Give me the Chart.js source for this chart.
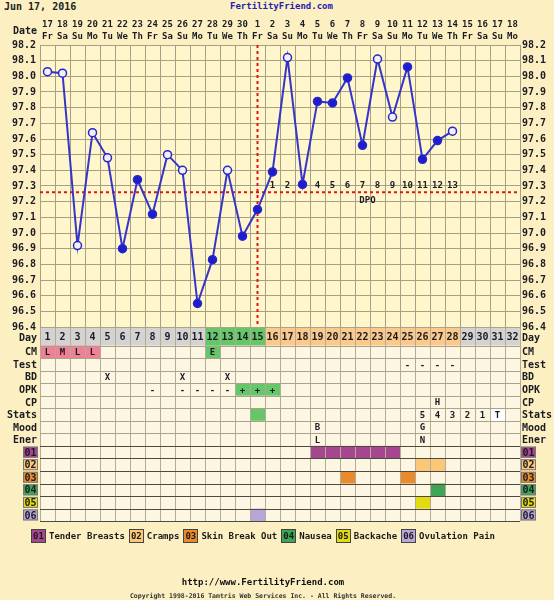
<!DOCTYPE html>
<html>
<head>
<meta charset="utf-8">
<script src="https://cdn.jsdelivr.net/npm/chart.js@4.4.1/dist/chart.umd.min.js"></script>
<style>
  html, body { margin: 0; padding: 0; background: #fcf0c2; }
  body { width: 554px; height: 600px; position: relative; overflow: hidden;
         font-family: "DejaVu Sans Mono", monospace; font-weight: bold; }
  #chart { position: absolute; left: 0; top: 0; }
  .title { position: absolute; top: 1px; left: 4px; font-size: 10px; color: #222; }
  .site { position: absolute; top: 1px; left: 230px; font-size: 9px; color: #1e22b0; }
  #legend { position: absolute; top: 529px; left: 31px; display: flex; align-items: center;
            font-size: 9px; color: #1a1a1a; white-space: nowrap; }
  #legend .item { display: flex; align-items: center; margin-right: 4px; }
  #legend .box { width: 13px; height: 12px; border: 1px solid #444; display: inline-flex;
                 align-items: center; justify-content: center; margin-right: 3px; font-size: 9px; }
  .url { position: absolute; top: 577px; left: 0; width: 526px; text-align: center; font-size: 9px; color: #111; }
  .copy { position: absolute; top: 592px; left: 0; width: 526px; text-align: center; font-size: 6.5px; color: #333; }
</style>
</head>
<body>
<div class="title">Jun 17, 2016</div>
<div class="site">FertilityFriend.com</div>
<canvas id="chart" width="554" height="600"></canvas>
<div id="legend"></div>
<div class="url">http://www.FertilityFriend.com</div>
<div class="copy">Copyright 1998-2016 Tamtris Web Services Inc. - All Rights Reserved.</div>
<script>
// --- chart data ---
const cycleDays = ['1','2','3','4','5','6','7','8','9','10','11','12','13','14','15','16',
                   '17','18','19','20','21','22','23','24','25','26','27','28','29','30','31','32'];
const dates = ['17','18','19','20','21','22','23','24','25','26','27','28','29','30','1','2',
               '3','4','5','6','7','8','9','10','11','12','13','14','15','16','17','18'];
const weekdays = ['Fr','Sa','Su','Mo','Tu','We','Th','Fr','Sa','Su','Mo','Tu','We','Th','Fr','Sa',
                  'Su','Mo','Tu','We','Th','Fr','Sa','Su','Mo','Tu','We','Th','Fr','Sa','Su','Mo'];
const temps = [98.03, 98.02, 96.92, 97.64, 97.48, 96.90, 97.34, 97.12, 97.50, 97.40, 96.55, 96.83,
               97.40, 96.98, 97.15, 97.39, 98.12, 97.31, 97.84, 97.83, 97.99, 97.56, 98.11, 97.74,
               98.06, 97.47, 97.59, 97.65, null, null, null, null];
const openCircleDays = [1, 2, 3, 4, 5, 9, 10, 13, 17, 23, 24, 28];
const coverline = 97.26;
const ovulationDay = 15;
const fertileDays = [12, 13, 14, 15];
const lutealDays = [16, 17, 18, 19, 20, 21, 22, 23, 24, 25, 26, 27, 28];

// observation rows (day: mark)
const cmMarks = {1: 'L', 2: 'M', 3: 'L', 4: 'L', 12: 'E'};
const testMarks = {25: '-', 26: '-', 27: '-', 28: '-'};
const bdMarks = {5: 'X', 10: 'X', 13: 'X'};
const opkMarks = {8: '-', 10: '-', 11: '-', 12: '-', 13: '-', 14: '+', 15: '+', 16: '+'};
const cpMarks = {27: 'H'};
const statsMarks = {26: '5', 27: '4', 28: '3', 29: '2', 30: '1', 31: 'T'};
const moodMarks = {19: 'B', 26: 'G'};
const energyMarks = {19: 'L', 26: 'N'};

const symptomNames = ['Tender Breasts', 'Cramps', 'Skin Break Out', 'Nausea', 'Backache', 'Ovulation Pain'];
const symptomDays = [
  [19, 20, 21, 22, 23, 24],
  [26, 27],
  [21, 25],
  [27],
  [26],
  [15]
];
const symptomColors = ['#a5468e', '#fbc878', '#e98b2c', '#3ea456', '#e3da12', '#b9a6d9'];

// --- styles ---
const font = '"DejaVu Sans Mono", monospace';
const gridColor = '#a69f86';
const plotBg = '#fff6cc';
const cellBg = '#fdf6e3';
const green = '#66c76a';
const pink = '#ef8098';
const textColor = '#1b1b24';

const legendEl = document.getElementById('legend');
symptomNames.forEach((name, i) => {
  const item = document.createElement('span');
  item.className = 'item';
  item.innerHTML = '<span class="box" style="background:' + symptomColors[i] + '">0' + (i + 1) +
                   '</span>' + name;
  legendEl.appendChild(item);
});

const tableRows = [
  {label: 'CM', marks: cmMarks, fill: (v) => v === 'E' ? green : (v ? pink : null)},
  {label: 'Test', marks: testMarks},
  {label: 'BD', marks: bdMarks},
  {label: 'OPK', marks: opkMarks, fill: (v) => v === '+' ? green : null},
  {label: 'CP', marks: cpMarks},
  {label: 'Stats', marks: statsMarks, fill: (v, d) => d === ovulationDay ? green : (v === 'T' ? '#ffffff' : null)},
  {label: 'Mood', marks: moodMarks},
  {label: 'Ener', marks: energyMarks}
];
symptomDays.forEach((days, i) => {
  tableRows.push({label: '0' + (i + 1), symptom: i, marks: {}, fill: (v, d) => days.includes(d) ? symptomColors[i] : null});
});

const backgroundPlugin = {
  id: 'plotBackground',
  beforeDraw(chart) {
    const {ctx, chartArea: a} = chart;
    ctx.save();
    ctx.fillStyle = plotBg;
    ctx.fillRect(a.left, a.top, a.right - a.left, a.bottom - a.top);
    ctx.restore();
  },
  beforeDatasetsDraw(chart) {
    const {ctx, chartArea: a} = chart;
    const x = chart.scales.x, y = chart.scales.y;
    const yc = y.getPixelForValue(coverline);
    const xo = x.getPixelForValue(ovulationDay - 1);
    ctx.save();
    ctx.strokeStyle = '#e01414';
    ctx.lineWidth = 2;
    ctx.setLineDash([3, 3]);
    ctx.beginPath();
    ctx.moveTo(a.left, yc);
    ctx.lineTo(a.right, yc);
    ctx.moveTo(xo, a.top);
    ctx.lineTo(xo, a.bottom);
    ctx.stroke();
    ctx.setLineDash([]);
    // DPO numbers
    ctx.fillStyle = textColor;
    ctx.font = 'bold 9px ' + font;
    ctx.textAlign = 'center';
    ctx.textBaseline = 'middle';
    temps.forEach((t, i) => {
      const d = i + 1;
      if (t !== null && d > ovulationDay) {
        ctx.fillText(String(d - ovulationDay), x.getPixelForValue(i), yc - 7);
      }
    });
    ctx.fillText('DPO', x.getPixelForValue(21) + 5, yc + 8);
    ctx.restore();
  }
};

const tablePlugin = {
  id: 'chartTable',
  afterDraw(chart) {
    const {ctx, chartArea: a} = chart;
    const x = chart.scales.x;
    const n = cycleDays.length;
    const colW = (x.right - x.left) / n;
    const dayTop = a.bottom, dayH = 18.5, rowH = 12.55;
    const rowsTop = dayTop + dayH;
    const tableBottom = rowsTop + tableRows.length * rowH;
    const px = (v) => Math.round(v) + 0.5;
    ctx.save();

    // header: dates and weekdays
    ctx.fillStyle = textColor;
    ctx.textAlign = 'center';
    ctx.textBaseline = 'middle';
    ctx.font = 'bold 9px ' + font;
    dates.forEach((d, i) => {
      const cx = x.getPixelForValue(i);
      ctx.fillText(d, cx, 25);
      ctx.fillText(weekdays[i], cx, 37);
    });
    ctx.textAlign = 'right';
    ctx.font = 'bold 10px ' + font;
    ctx.fillText('Date', a.left - 3, 31);

    // cell backgrounds
    ctx.fillStyle = cellBg;
    ctx.fillRect(a.left, rowsTop, a.right - a.left, tableBottom - rowsTop);
    cycleDays.forEach((d, i) => {
      const day = i + 1;
      const left = x.getPixelForValue(i) - colW / 2;
      ctx.fillStyle = fertileDays.includes(day) ? green : (lutealDays.includes(day) ? '#fbc98b' : '#d3d3d3');
      ctx.fillRect(left, dayTop, colW, dayH);
      tableRows.forEach((row, r) => {
        const v = row.marks[day] || '';
        const c = row.fill ? row.fill(v, day) : null;
        if (c) {
          ctx.fillStyle = c;
          ctx.fillRect(left, rowsTop + r * rowH, colW, rowH);
        }
      });
    });

    // grid lines
    ctx.lineWidth = 1;
    ctx.strokeStyle = '#b3ab94';
    for (let i = 0; i <= n; i++) {
      const lx = px(a.left + i * colW);
      ctx.beginPath();
      ctx.moveTo(lx, dayTop);
      ctx.lineTo(lx, tableBottom);
      ctx.stroke();
    }
    for (let r = 0; r <= tableRows.length; r++) {
      const ly = px(rowsTop + r * rowH);
      ctx.strokeStyle = r >= 8 ? '#4e4a40' : '#aaa38c';
      ctx.beginPath();
      ctx.moveTo(a.left, ly);
      ctx.lineTo(a.right, ly);
      ctx.stroke();
    }
    ctx.strokeStyle = '#aaa38c';
    ctx.beginPath();
    ctx.moveTo(a.left, px(dayTop));
    ctx.lineTo(a.right, px(dayTop));
    ctx.stroke();

    // day numbers and marks
    ctx.fillStyle = textColor;
    ctx.textAlign = 'center';
    cycleDays.forEach((d, i) => {
      const cx = x.getPixelForValue(i);
      ctx.font = 'bold 10px ' + font;
      ctx.fillText(d, cx, dayTop + dayH / 2 + 1);
      ctx.font = 'bold 9px ' + font;
      tableRows.forEach((row, r) => {
        const v = row.marks[i + 1];
        if (v) ctx.fillText(v, cx, rowsTop + r * rowH + rowH / 2 + 1);
      });
    });

    // row labels, both sides
    ctx.font = 'bold 10px ' + font;
    const labelRow = (label, yMid, symptom) => {
      if (symptom !== undefined) {
        [[a.left - 17, a.left - 2], [a.right + 1, a.right + 16]].forEach(([l, r]) => {
          ctx.fillStyle = symptomColors[symptom];
          ctx.fillRect(l, yMid - 5.5, r - l, 11);
          ctx.strokeStyle = '#777';
          ctx.strokeRect(l + 0.5, yMid - 5, r - l - 1, 10);
          ctx.fillStyle = textColor;
          ctx.textAlign = 'center';
          ctx.fillText(label, (l + r) / 2, yMid + 1);
        });
        return;
      }
      ctx.fillStyle = textColor;
      ctx.textAlign = 'right';
      ctx.fillText(label, a.left - 3, yMid + 1);
      ctx.textAlign = 'left';
      ctx.fillText(label, a.right + 2, yMid + 1);
    };
    labelRow('Day', dayTop + dayH / 2 + 1);
    tableRows.forEach((row, r) => labelRow(row.label, rowsTop + r * rowH + rowH / 2, row.symptom));
    ctx.restore();
  }
};

const yTicks = {
  stepSize: 0.1,
  autoSkip: false,
  maxTicksLimit: 40,
  color: textColor,
  font: {family: font, size: 10, weight: 'bold'},
  callback: (v) => v.toFixed(1)
};

new Chart(document.getElementById('chart'), {
  type: 'line',
  data: {
    labels: cycleDays,
    datasets: [{
      data: temps,
      borderColor: '#3535c9',
      borderWidth: 2,
      tension: 0,
      pointRadius: 4,
      pointBorderWidth: 1.5,
      pointBorderColor: '#2828c4',
      pointBackgroundColor: temps.map((t, i) => openCircleDays.includes(i + 1) ? '#f2f0fa' : '#1c1cd2')
    }]
  },
  options: {
    responsive: false,
    animation: false,
    devicePixelRatio: 1,
    layout: {padding: {top: 45, bottom: 273, left: 0, right: 0}},
    plugins: {legend: {display: false}, tooltip: {enabled: false}},
    scales: {
      x: {
        type: 'category',
        offset: true,
        grid: {offset: true, color: gridColor, drawTicks: false},
        border: {color: gridColor},
        ticks: {display: false},
        afterFit: (s) => { s.height = 0; }
      },
      y: {
        position: 'left',
        min: 96.4,
        max: 98.2,
        grid: {color: gridColor, drawTicks: false},
        border: {color: gridColor},
        ticks: Object.assign({padding: 4}, yTicks),
        afterFit: (s) => { s.width = 40; }
      },
      y2: {
        position: 'right',
        min: 96.4,
        max: 98.2,
        grid: {drawOnChartArea: false, drawTicks: false},
        border: {color: gridColor},
        ticks: Object.assign({padding: 2}, yTicks),
        afterFit: (s) => { s.width = 34; }
      }
    }
  },
  plugins: [backgroundPlugin, tablePlugin]
});
</script>
</body>
</html>
